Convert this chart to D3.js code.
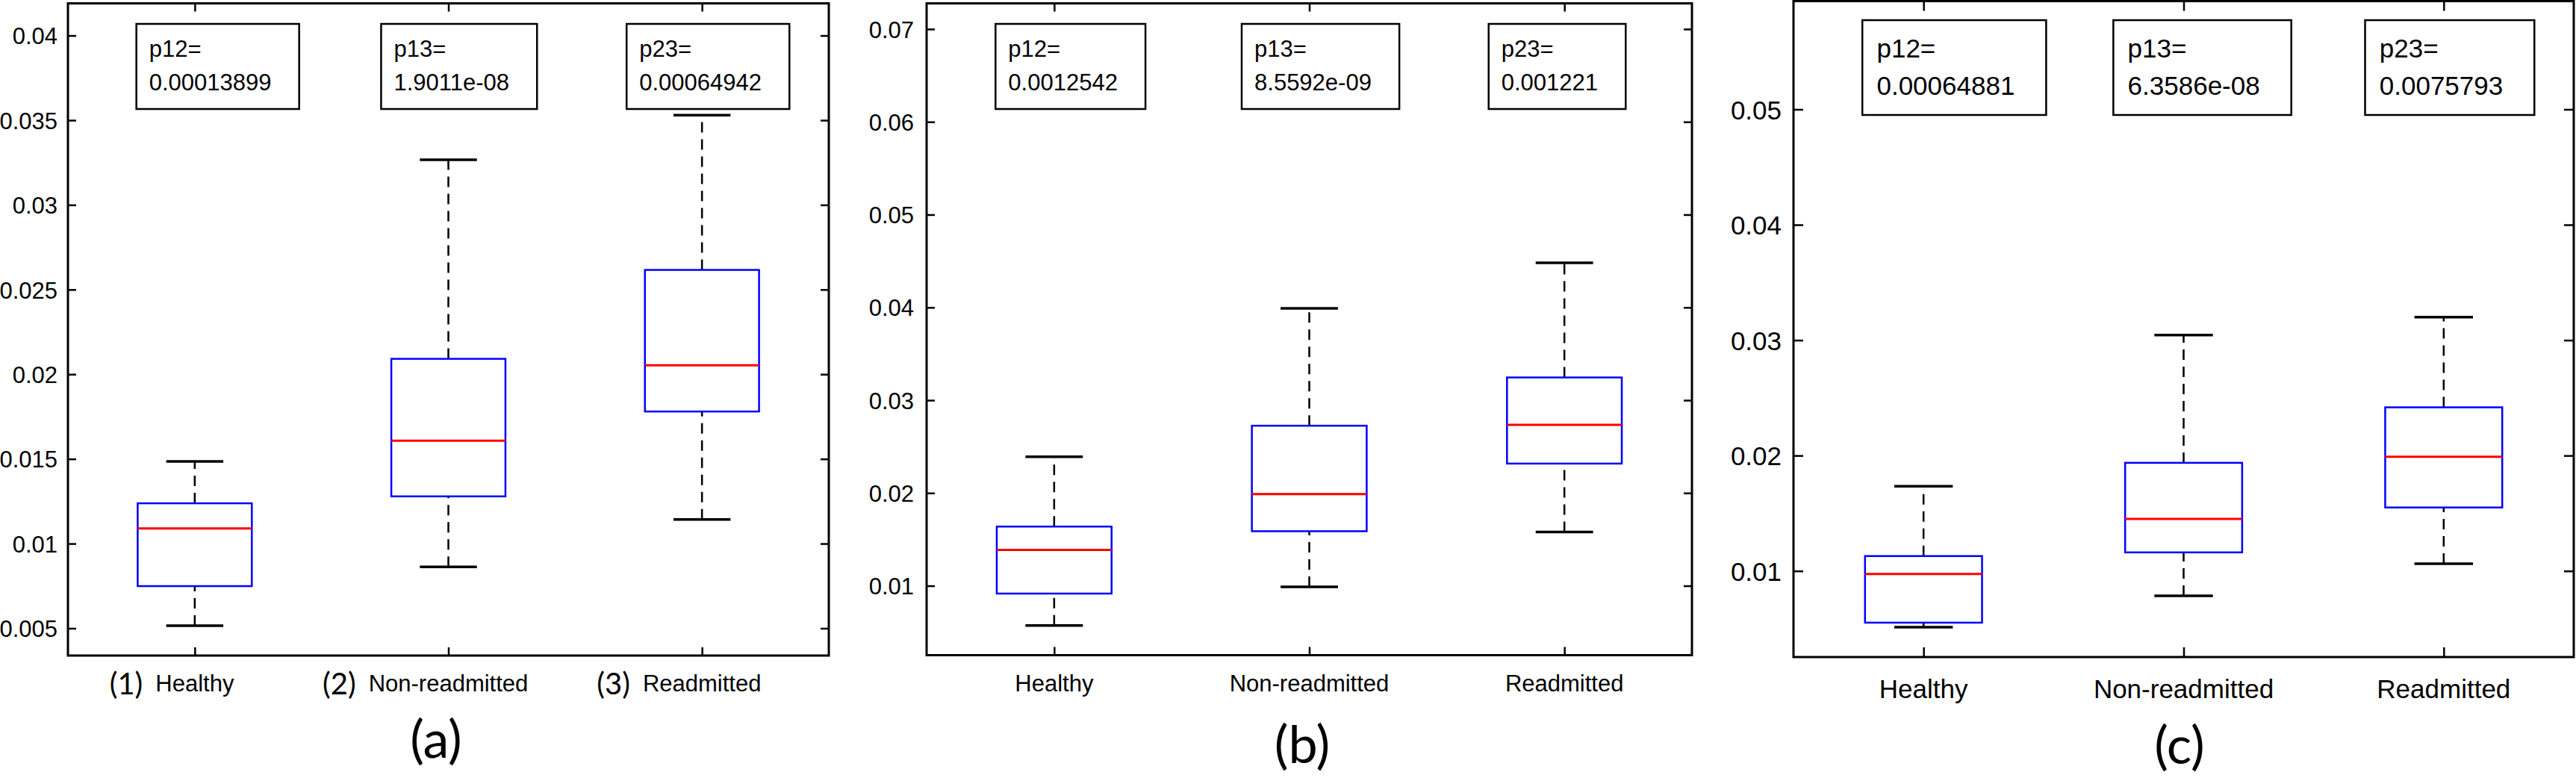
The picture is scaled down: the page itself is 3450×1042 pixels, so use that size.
<!DOCTYPE html>
<html>
<head>
<meta charset="utf-8">
<script src="https://cdn.jsdelivr.net/npm/d3@7"></script>
<style>
body { margin: 0; background: #fff; }
text { font-family: "Liberation Sans", Arial, sans-serif; fill: #000; }
</style>
</head>
<body>
<div id="chart"></div>
<script>
// group names under each box
var groups = ["Healthy", "Non-readmitted", "Readmitted"];
var groupTags = ["(1)", "(2)", "(3)"];
var pNames = ["p12=", "p13=", "p23="];
// x position (in group units) where each p-value text starts
var pTextPos = [0.82, 1.785, 2.753];

// box stats per group: [lower whisker, q1, median, q3, upper whisker]
var boxesA = [
  [0.00515, 0.00749, 0.0109, 0.01238, 0.01485],
  [0.00863, 0.01279, 0.01608, 0.02091, 0.03266],
  [0.01143, 0.0178, 0.02053, 0.02616, 0.0353]
];
var boxesB = [
  [0.00572, 0.00916, 0.01387, 0.01638, 0.0239],
  [0.00989, 0.01588, 0.01989, 0.02725, 0.0399],
  [0.0158, 0.02317, 0.02734, 0.03245, 0.0448]
];
var boxesC = [
  [0.00512, 0.00552, 0.00973, 0.01129, 0.01734],
  [0.00785, 0.01161, 0.01451, 0.01937, 0.03045],
  [0.01063, 0.0155, 0.01989, 0.02418, 0.0320]
];

var pValuesA = ["0.00013899", "1.9011e-08", "0.00064942"];
var pValuesB = ["0.0012542", "8.5592e-09", "0.001221"];
var pValuesC = ["0.00064881", "6.3586e-08", "0.0075793"];

var yTicksA = [0.005, 0.01, 0.015, 0.02, 0.025, 0.03, 0.035, 0.04];
var yTicksB = [0.01, 0.02, 0.03, 0.04, 0.05, 0.06, 0.07];
var yTicksC = [0.01, 0.02, 0.03, 0.04, 0.05];

var yLimA = [0.00339, 0.0419];
var yLimB = [0.00252, 0.07277];
var yLimC = [0.00254, 0.05938];

var W = 3450, H = 1042;

var svg = d3.select("#chart")
  .append("svg")
  .attr("width", W)
  .attr("height", H)
  .style("display", "block");

var fmt = d3.format("~g");

function drawPanel(p) {
  var g = svg.append("g");
  var x = d3.scaleLinear().domain([0.5, 3.5]).range([p.left, p.right]);
  var y = d3.scaleLinear().domain(p.ylim).range([p.bottom, p.top]);
  var step = x(2) - x(1);
  var bw = step * 0.45;

  // axes, all ticks pointing inward
  var left = g.append("g").attr("transform", "translate(" + p.left + ",0)")
    .call(d3.axisLeft(y).tickValues(p.yticks).tickSizeInner(-p.tick).tickSizeOuter(0)
      .tickPadding(p.pad).tickFormat(fmt));
  left.selectAll("text")
    .attr("font-family", null)
    .style("font-size", p.fs + "px")
    .attr("dy", "0.36em");
  g.append("g").attr("transform", "translate(" + p.right + ",0)")
    .call(d3.axisRight(y).tickValues(p.yticks).tickSizeInner(-p.tick).tickSizeOuter(0).tickFormat(""));
  g.append("g").attr("transform", "translate(0," + p.bottom + ")")
    .call(d3.axisBottom(x).tickValues([1, 2, 3]).tickSizeInner(-p.tick).tickSizeOuter(0).tickFormat(""));
  g.append("g").attr("transform", "translate(0," + p.top + ")")
    .call(d3.axisTop(x).tickValues([1, 2, 3]).tickSizeInner(-p.tick).tickSizeOuter(0).tickFormat(""));
  g.selectAll(".domain").remove();
  g.selectAll(".tick line").attr("stroke", "#000").attr("stroke-width", 2.5);

  // frame
  g.append("rect")
    .attr("x", p.left).attr("y", p.top)
    .attr("width", p.right - p.left).attr("height", p.bottom - p.top)
    .attr("fill", "none").attr("stroke", "#000").attr("stroke-width", 3);

  // boxes
  p.boxes.forEach(function(s, i) {
    var cx = x(i + 1);
    // whiskers
    [[s[0], s[1]], [s[3], s[4]]].forEach(function(w) {
      g.append("line")
        .attr("x1", cx).attr("x2", cx)
        .attr("y1", y(w[0])).attr("y2", y(w[1]))
        .attr("stroke", "#000").attr("stroke-width", 2.5)
        .attr("stroke-dasharray", "14,9");
    });
    [s[0], s[4]].forEach(function(v) {
      g.append("line")
        .attr("x1", cx - bw / 4).attr("x2", cx + bw / 4)
        .attr("y1", y(v)).attr("y2", y(v))
        .attr("stroke", "#000").attr("stroke-width", 3.5);
    });
    g.append("rect")
      .attr("x", cx - bw / 2).attr("y", y(s[3]))
      .attr("width", bw).attr("height", y(s[1]) - y(s[3]))
      .attr("fill", "none").attr("stroke", "#0000ff").attr("stroke-width", 2.5);
    g.append("line")
      .attr("x1", cx - bw / 2).attr("x2", cx + bw / 2)
      .attr("y1", y(s[2])).attr("y2", y(s[2]))
      .attr("stroke", "#ff0000").attr("stroke-width", 3);
  });

  // p-value text boxes
  p.pvals.forEach(function(v, i) {
    var tx = x(pTextPos[i]);
    var box = g.append("rect")
      .attr("y", p.pTop).attr("height", p.pBottom - p.pTop)
      .attr("fill", "#fff").attr("stroke", "#000").attr("stroke-width", 2.5);
    var t1 = g.append("text").attr("x", tx).attr("y", p.pY1)
      .style("font-size", p.fs + "px").text(pNames[i]);
    var t2 = g.append("text").attr("x", tx).attr("y", p.pY2)
      .style("font-size", p.fs + "px").text(v);
    var w = Math.max(t1.node().getComputedTextLength(), t2.node().getComputedTextLength());
    box.attr("x", tx - 0.55 * p.fs).attr("width", w + 1.75 * p.fs);
  });

  // category labels
  groups.forEach(function(name, i) {
    var cx = x(i + 1);
    var t = g.append("text")
      .attr("x", cx).attr("y", p.labelY)
      .attr("text-anchor", "middle")
      .style("font-size", p.fs + "px")
      .text(name);
    if (p.tags) {
      var w = t.node().getComputedTextLength();
      g.append("text")
        .attr("x", cx - w / 2 - 17).attr("y", p.labelY + 4)
        .attr("text-anchor", "end")
        .style("font-family", "Lato, 'Open Sans', sans-serif")
        .style("font-size", "40px")
        .text(groupTags[i]);
    }
  });

  // panel caption
  svg.append("text")
    .attr("x", p.capX).attr("y", p.capY)
    .attr("text-anchor", "middle")
    .style("font-family", "Lato, 'Open Sans', sans-serif")
    .style("font-size", "70px")
    .text(p.caption);
}

drawPanel({
  left: 91, right: 1110, top: 4.5, bottom: 878,
  ylim: yLimA, yticks: yTicksA, boxes: boxesA, pvals: pValuesA,
  fs: 31, tick: 11, pad: 14,
  pY1: 76, pY2: 121, pTop: 32, pBottom: 146,
  labelY: 926, tags: true,
  caption: "(a)", capX: 584, capY: 1015
});
drawPanel({
  left: 1241, right: 2266, top: 4.5, bottom: 877.5,
  ylim: yLimB, yticks: yTicksB, boxes: boxesB, pvals: pValuesB,
  fs: 31, tick: 11, pad: 17,
  pY1: 76, pY2: 121, pTop: 32, pBottom: 146,
  labelY: 926, tags: false,
  caption: "(b)", capX: 1744, capY: 1022
});
drawPanel({
  left: 2402, right: 3447, top: 1.5, bottom: 880,
  ylim: yLimC, yticks: yTicksC, boxes: boxesC, pvals: pValuesC,
  fs: 35, tick: 13, pad: 16,
  pY1: 77, pY2: 127, pTop: 27, pBottom: 154,
  labelY: 935, tags: false,
  caption: "(c)", capX: 2919, capY: 1023
});
</script>
</body>
</html>
